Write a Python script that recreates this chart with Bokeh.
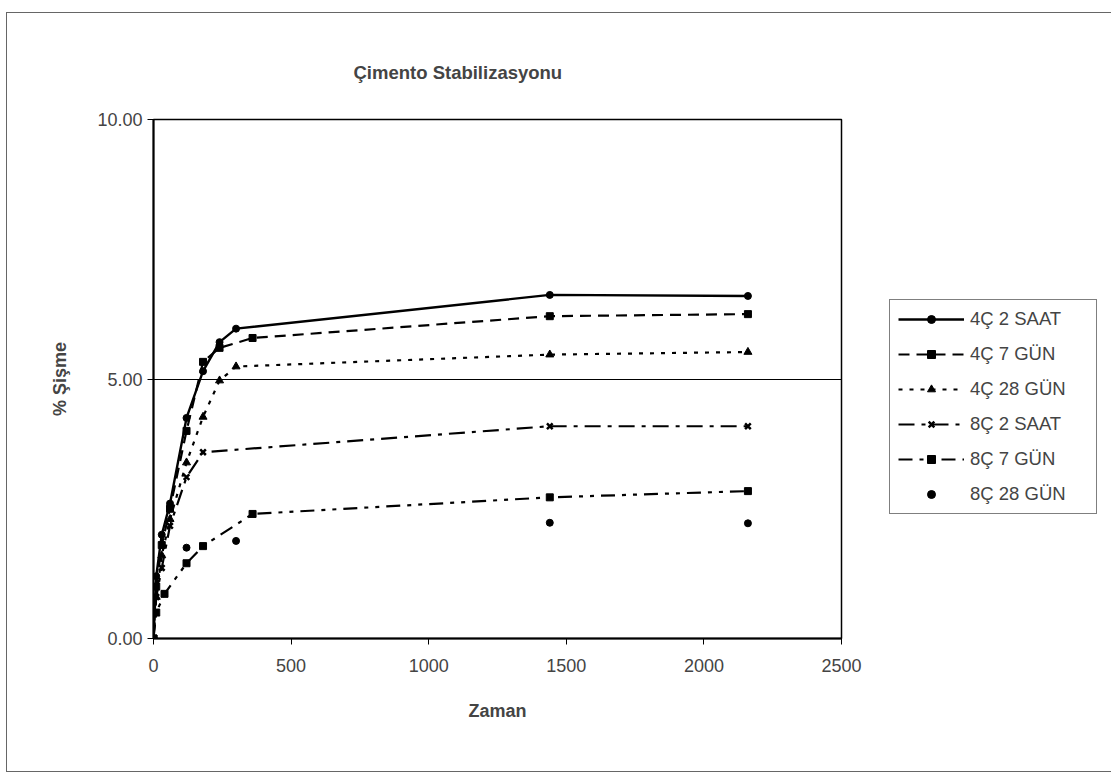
from bokeh.plotting import figure
from bokeh.models import Legend, LegendItem, FixedTicker, NumeralTickFormatter, Range1d
from bokeh.embed import file_html
from bokeh.resources import INLINE

# ---- data ----
series_names = ["4Ç 2 SAAT", "4Ç 7 GÜN", "4Ç 28 GÜN", "8Ç 2 SAAT", "8Ç 7 GÜN", "8Ç 28 GÜN"]

t_4c2 = [0, 10, 30, 60, 120, 180, 240, 300, 1440, 2160]
y_4c2 = [0, 1.2, 2.0, 2.6, 4.25, 5.15, 5.71, 5.97, 6.62, 6.60]

t_4c7 = [0, 10, 30, 60, 120, 180, 240, 360, 1440, 2160]
y_4c7 = [0, 1.0, 1.8, 2.5, 4.0, 5.33, 5.6, 5.79, 6.21, 6.25]

t_4c28 = [0, 10, 30, 60, 120, 180, 240, 300, 1440, 2160]
y_4c28 = [0, 0.8, 1.6, 2.3, 3.39, 4.27, 4.97, 5.24, 5.47, 5.52]

t_8c2 = [0, 10, 30, 60, 120, 180, 1440, 2160]
y_8c2 = [0, 0.8, 1.36, 2.17, 3.11, 3.59, 4.09, 4.09]

t_8c7 = [0, 10, 40, 120, 180, 360, 1440, 2160]
y_8c7 = [0, 0.5, 0.86, 1.45, 1.78, 2.40, 2.72, 2.84]

t_8c28 = [0, 120, 300, 1440, 2160]
y_8c28 = [0, 1.75, 1.88, 2.23, 2.22]

x_ticks = [0, 500, 1000, 1500, 2000, 2500]
y_ticks = [0, 5, 10]

FONT = "Liberation Sans"

p = figure(frame_width=688, frame_height=519, output_backend="svg", toolbar_location=None,
           x_range=Range1d(0, 2500), y_range=Range1d(0, 10),
           min_border_left=146, min_border_right=0, min_border_top=106,
           min_border_bottom=133)
p.margin = (12, 0, 0, 6)
p.styles = {"border": "1px solid #666"}

p.title.text = "Çimento Stabilizasyonu"
p.title.text_font = FONT
p.title.text_font_size = "18.5px"
p.title.text_font_style = "bold"
p.title.align = "left"
p.title.offset = 200
p.title.standoff = 74

p.outline_line_color = "black"
p.outline_line_width = 1.5

for ax in (p.xaxis[0], p.yaxis[0]):
    ax.axis_line_color = "black"
    ax.axis_line_width = 2
    ax.major_tick_line_color = "black"
    ax.major_tick_out = 6
    ax.major_tick_in = 0
    ax.minor_tick_line_color = None
    ax.major_label_text_font = FONT
    ax.major_label_text_font_size = "18px"
    ax.axis_label_text_font = FONT
    ax.axis_label_text_font_size = "18px"
    ax.axis_label_text_font_style = "bold"

p.xaxis.ticker = FixedTicker(ticks=x_ticks)
p.yaxis.ticker = FixedTicker(ticks=y_ticks)
p.yaxis.formatter = NumeralTickFormatter(format="0.00")
p.xaxis.axis_label = "Zaman"
p.yaxis.axis_label = "% Şişme"
p.xaxis.axis_label_standoff = 26
p.yaxis.axis_label_standoff = 24
p.xaxis.major_label_standoff = 14

p.xgrid.visible = False
p.ygrid.ticker = FixedTicker(ticks=[5])
p.ygrid.grid_line_color = "black"
p.ygrid.grid_line_width = 1

C = "black"
items = []

l1 = p.line(t_4c2, y_4c2, line_color=C, line_width=2.4)
m1 = p.scatter(t_4c2, y_4c2, marker="circle", size=7, fill_color=C, line_color=C)
items.append(LegendItem(label=series_names[0], renderers=[l1, m1]))

l2 = p.line(t_4c7, y_4c7, line_color=C, line_width=2.2, line_dash="11 7")
m2 = p.scatter(t_4c7, y_4c7, marker="square", size=7, fill_color=C, line_color=C)
items.append(LegendItem(label=series_names[1], renderers=[l2, m2]))

l3 = p.line(t_4c28, y_4c28, line_color=C, line_width=2.2, line_dash="4 7")
m3 = p.scatter(t_4c28, y_4c28, marker="triangle", size=8, fill_color=C, line_color=C)
items.append(LegendItem(label=series_names[2], renderers=[l3, m3]))

l4 = p.line(t_8c2, y_8c2, line_color=C, line_width=2.2, line_dash="16 7 4 7")
m4 = p.scatter(t_8c2, y_8c2, marker="x", size=8, line_color=C, line_width=2.5)
items.append(LegendItem(label=series_names[3], renderers=[l4, m4]))

l5 = p.line(t_8c7, y_8c7, line_color=C, line_width=2.2, line_dash="14 7 4 7 4 7")
m5 = p.scatter(t_8c7, y_8c7, marker="square", size=7, fill_color=C, line_color=C)
items.append(LegendItem(label=series_names[4], renderers=[l5, m5]))

m6 = p.scatter(t_8c28, y_8c28, marker="circle", size=7, fill_color=C, line_color=C)
items.append(LegendItem(label=series_names[5], renderers=[m6]))

legend = Legend(items=items, location=(48, 124))
legend.border_line_color = "black"
legend.border_line_width = 1
legend.background_fill_alpha = 1
legend.label_text_font = FONT
legend.label_text_font_size = "18.5px"
legend.glyph_width = 66
legend.glyph_height = 20
legend.label_height = 20
legend.label_width = 118
legend.spacing = 13
legend.padding = 8
legend.margin = 0
legend.label_standoff = 6
p.add_layout(legend, "right")

open("out.html", "w").write(file_html(p, INLINE))
